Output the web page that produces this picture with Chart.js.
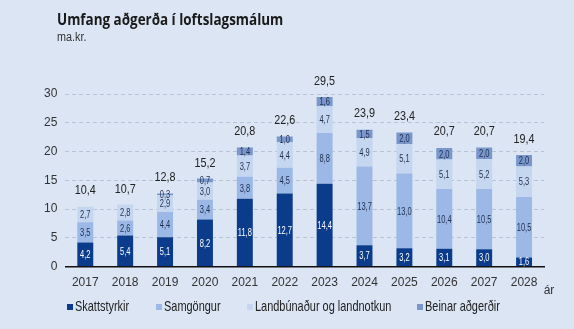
<!DOCTYPE html>
<html>
<head>
<meta charset="utf-8">
<script src="https://cdn.jsdelivr.net/npm/chart.js@4"></script>
<style>
  html, body { margin: 0; padding: 0; background: #dbe5f4; }
  #wrap { position: relative; width: 574px; height: 329px; overflow: hidden; }
  #umfangChart { position: absolute; left: 0; top: 0; }
  .txt { position: absolute; white-space: nowrap; transform-origin: left center; }
  #title { left: 57px; top: 8px; font: bold 16px 'Open Sans', sans-serif; color: #1a1a1a; transform: scaleX(0.84); }
  #unit { left: 57px; top: 30px; font: 12px 'Liberation Sans', sans-serif; color: #333; transform: scaleX(0.9); }
  .leg { position: absolute; top: 298px; height: 18px; font: 14.5px 'Liberation Sans', sans-serif; color: #222; white-space: nowrap; }
  .leg i { position: absolute; left: 0; top: 6px; width: 6px; height: 6px; }
  .leg span { position: absolute; left: 8px; top: 0; display: inline-block; transform-origin: left center; transform: scaleX(0.755); }
</style>
</head>
<body>
<div id="wrap">
  <canvas id="umfangChart" width="574" height="329"></canvas>
  <div id="title" class="txt">Umfang aðgerða í loftslagsmálum</div>
  <div id="unit" class="txt">ma.kr.</div>
  <div id="legend"></div>
</div>
<script>
const ar = ['2017', '2018', '2019', '2020', '2021', '2022', '2023', '2024', '2025', '2026', '2027', '2028'];
const skattstyrkir = [4.2, 5.4, 5.1, 8.2, 11.8, 12.7, 14.4, 3.7, 3.2, 3.1, 3.0, 1.6];
const samgongur = [3.5, 2.6, 4.4, 3.4, 3.8, 4.5, 8.8, 13.7, 13.0, 10.4, 10.5, 10.5];
const landbunadur = [2.7, 2.8, 2.9, 3.0, 3.7, 4.4, 4.7, 4.9, 5.1, 5.1, 5.2, 5.3];
const beinar = [0, 0, 0.3, 0.7, 1.4, 1.0, 1.6, 1.5, 2.0, 2.0, 2.0, 2.0];
const samtals = [10.4, 10.7, 12.8, 15.2, 20.8, 22.6, 29.5, 23.9, 23.4, 20.7, 20.7, 19.4];

const heiti = ['Skattstyrkir', 'Samgöngur', 'Landbúnaður og landnotkun', 'Beinar aðgerðir'];
const litir = ['#0b3c8c', '#9bb8e6', '#c5d6f0', '#7a97cc'];

const letur = "'Liberation Sans', sans-serif";
const kr = v => v.toFixed(1).replace('.', ',');

// mjor texti a canvas
function mjorTexti(ctx, t, x, y, sx) {
    ctx.save();
    ctx.translate(x, y);
    ctx.scale(sx, 1);
    ctx.fillText(t, 0, 0);
    ctx.restore();
}

const gildiPlugin = {
    id: 'gildi',
    afterDatasetsDraw(chart) {
        const ctx = chart.ctx;
        ctx.save();
        ctx.textAlign = 'center';
        ctx.textBaseline = 'middle';
        ctx.font = '10px ' + letur;
        chart.data.datasets.forEach((ds, i) => {
            const meta = chart.getDatasetMeta(i);
            meta.data.forEach((bar, j) => {
                const v = ds.data[j];
                if (!v) return;
                ctx.fillStyle = i === 0 ? '#ffffff' : '#1f2f4f';
                mjorTexti(ctx, kr(v), bar.x, (bar.y + bar.base) / 2 + 1, 0.75);
            });
        });
        const y = chart.scales.y;
        const x = chart.scales.x;
        ctx.font = '13.5px ' + letur;
        ctx.fillStyle = '#222';
        samtals.forEach((t, j) => {
            mjorTexti(ctx, kr(t), x.getPixelForValue(j), y.getPixelForValue(t) - 16, 0.8);
        });
        ctx.font = '12px ' + letur;
        ctx.fillStyle = '#333';
        ctx.fillText('ár', chart.chartArea.right + 5, y.bottom + 24);
        ctx.restore();
    }
};

// skyringar
const legX = [67, 156, 247, 417];
document.getElementById('legend').innerHTML = heiti.map((h, i) =>
    '<div class="leg" style="left:' + legX[i] + 'px"><i style="background:' + litir[i] + '"></i><span>' + h + '</span></div>'
).join('');

const ctx = document.getElementById('umfangChart').getContext('2d');
new Chart(ctx, {
    type: 'bar',
    data: {
        labels: ar,
        datasets: heiti.map((h, i) => ({
            label: h,
            data: [skattstyrkir, samgongur, landbunadur, beinar][i],
            backgroundColor: litir[i]
        }))
    },
    options: {
        responsive: false,
        animation: false,
        layout: { padding: { top: 94, left: 36, right: 30, bottom: 38 } },
        datasets: { bar: { categoryPercentage: 1, barPercentage: 0.4 } },
        plugins: {
            legend: { display: false },
            tooltip: { enabled: false }
        },
        scales: {
            x: {
                stacked: true,
                grid: { display: false },
                border: { display: true, color: '#111', width: 1.5 },
                ticks: { color: '#333', font: { family: letur, size: 12 }, padding: 1 }
            },
            y: {
                stacked: true,
                min: 0,
                max: 30,
                border: { display: false, dash: [4, 3] },
                grid: { color: '#b7c3d7', drawTicks: false },
                ticks: { stepSize: 5, color: '#333', padding: 8, font: { family: letur, size: 12 } }
            }
        }
    },
    plugins: [gildiPlugin]
});
</script>
</body>
</html>
